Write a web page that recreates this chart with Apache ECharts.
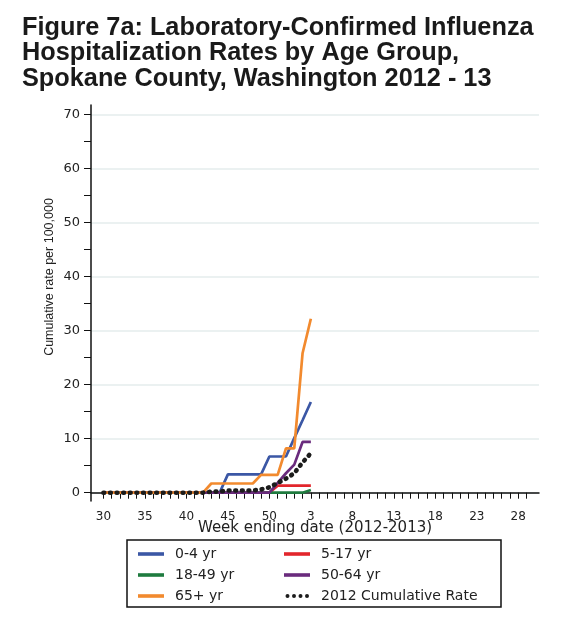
<!DOCTYPE html>
<html>
<head>
<meta charset="utf-8" />
<title>Figure 7a</title>
<style type="text/css">
html,body{margin:0;padding:0;background:#fff}
#chart{width:567px;height:618px}
</style>
<script src="https://cdn.jsdelivr.net/npm/echarts@6/dist/echarts.min.js"></script>
</head>
<body>
<div id="chart"></div>
<script type="text/javascript">
// week ending labels on the x axis (2012 weeks 30-52, then 2013 weeks 1-29)
var weeks2012 = [30,31,32,33,34,35,36,37,38,39,40,41,42,43,44,45,46,47,48,49,50,51,52];
var weeks2013 = [1,2,3,4,5,6,7,8,9,10,11,12,13,14,15,16,17,18,19,20,21,22,23,24,25,26,27,28,29];

// cumulative rates per 100,000, week 30 (2012) to week 3 (2013)
var age0to4   = [0,0,0,0,0,0,0,0,0,0,0,0,0,0,0,3.4,3.4,3.4,3.4,3.4,6.7,6.7,6.7,10.1,13.4,16.8];
var age5to17  = [0,0,0,0,0,0,0,0,0,0,0,0,0,0,0,0,0,0,0,0,0,1.3,1.3,1.3,1.3,1.3];
var age18to49 = [0,0,0,0,0,0,0,0,0,0,0,0,0,0,0,0,0,0,0,0,0,0,0,0,0,0.5];
var age50to64 = [0,0,0,0,0,0,0,0,0,0,0,0,0,0,0,0,0,0,0,0,0,1.8,3.6,5.2,9.4,9.4];
var age65plus = [0,0,0,0,0,0,0,0,0,0,0,0,0,1.7,1.7,1.7,1.7,1.7,1.7,3.3,3.3,3.3,8.2,8.2,25.8,32.2];
var cumRate   = [0,0,0,0,0,0,0,0,0,0,0,0,0,0.2,0.2,0.4,0.4,0.4,0.4,0.6,1.0,1.8,2.6,3.6,5.6,7.3];

var seriesNames = ['0-4 yr','5-17 yr','18-49 yr','50-64 yr','65+ yr','2012 Cumulative Rate'];
var seriesColors = ['#3b57a5','#e2262c','#1f7b3f','#6a2b7d','#f28a2e','#1c1c1c'];
var seriesData = [age0to4,age5to17,age18to49,age50to64,age65plus,cumRate];

var yTicks = [0,10,20,30,40,50,60,70];

// one empty slot at each end gives the padding the axis has past 30 and 29
var categories = [''].concat(weeks2012.map(String), weeks2013.map(String), ['']);
var lastCat = categories.length - 1;

var chartFont = 'DejaVu Sans';

// legend icons: a short thick bar, and a row of dots for the cumulative rate
var barIcon = 'path://M0,0L0,0M0,5.2L26,5.2L26,8.8L0,8.8ZM26,14L26,14';
var dotIcon = 'path://M0,0L0,0M1.5,7a2,2 0 1,0 4,0a2,2 0 1,0 -4,0M8,7a2,2 0 1,0 4,0a2,2 0 1,0 -4,0' +
	'M14.5,7a2,2 0 1,0 4,0a2,2 0 1,0 -4,0M21,7a2,2 0 1,0 4,0a2,2 0 1,0 -4,0M26,14L26,14';

function legendItem(name){
	return {name: name, icon: name == '2012 Cumulative Rate' ? dotIcon : barIcon};
}

var series = seriesData.map(function(d,i){
	var s = {
		name: seriesNames[i],
		type: 'line',
		data: [null].concat(d),
		symbol: 'none',
		showSymbol: false,
		animation: false,
		z: 2 + i,
		lineStyle: {color: seriesColors[i], width: 2.7},
		itemStyle: {color: seriesColors[i]}
	};
	if(i == 5){
		s.lineStyle = {color: seriesColors[i], width: 4.6, type: [0.8, 5.8], cap: 'round'};
	}
	return s;
});

var myChart = echarts.init(document.getElementById('chart'));
var option = {
	backgroundColor: '#fff',
	animation: false,
	title: {
		text: 'Figure 7a: Laboratory-Confirmed Influenza\nHospitalization Rates by Age Group,\nSpokane County, Washington 2012 - 13',
		left: 22,
		top: 15,
		padding: 0,
		textStyle: {
			fontFamily: 'Liberation Sans',
			fontSize: 25.3,
			fontWeight: 'bold',
			lineHeight: 25.5,
			color: '#1a1a1a'
		}
	},
	grid: [
		{left: 91, right: 28, top: 114.5, bottom: 125.3, containLabel: false},
		{left: 91, right: 28, top: 105, bottom: 117, containLabel: false}
	],
	legend: [
		{
			orient: 'vertical',
			left: 133, top: 542,
			itemWidth: 26, itemHeight: 14, itemGap: 7,
			data: ['0-4 yr','18-49 yr','65+ yr'].map(legendItem),
			textStyle: {fontFamily: chartFont, fontSize: 14, color: '#222', padding: [0,0,0,6]}
		},
		{
			orient: 'vertical',
			left: 279, top: 542,
			itemWidth: 26, itemHeight: 14, itemGap: 7,
			data: ['5-17 yr','50-64 yr','2012 Cumulative Rate'].map(legendItem),
			textStyle: {fontFamily: chartFont, fontSize: 14, color: '#222', padding: [0,0,0,6]}
		}
	],
	graphic: [
		{
			type: 'rect',
			shape: {x: 127, y: 540, width: 374, height: 67},
			style: {fill: 'none', stroke: '#111', lineWidth: 1.5},
			silent: true
		},
		{
			type: 'text',
			x: 50, y: 277,
			rotation: Math.PI / 2,
			style: {
				text: 'Cumulative rate per 100,000',
				fontFamily: 'Liberation Sans',
				fontSize: 12.5,
				fill: '#222',
				align: 'center',
				verticalAlign: 'middle'
			},
			silent: true
		}
	],
	xAxis: [
		{
			gridIndex: 0,
			type: 'category',
			data: categories,
			boundaryGap: true,
			offset: 8,
			name: 'Week ending date (2012-2013)',
			nameLocation: 'middle',
			nameGap: 20,
			nameMoveOverlap: false,
			nameTextStyle: {fontFamily: chartFont, fontSize: 15, color: '#222'},
			axisLine: {show: true, lineStyle: {color: '#111', width: 1.5}},
			axisTick: {
				show: true,
				alignWithLabel: true,
				length: 6,
				lineStyle: {color: '#111', width: 1},
				interval: function(idx){ return idx > 0 && idx < lastCat; }
			},
			axisLabel: {
				fontFamily: chartFont,
				fontSize: 12,
				color: '#222',
				margin: 10,
				interval: function(idx){ return idx > 0 && idx < lastCat && (idx - 1) % 5 === 0; }
			},
			splitLine: {show: false}
		},
		{
			gridIndex: 1,
			type: 'value',
			min: 0, max: 1,
			show: false
		}
	],
	yAxis: [
		{
			gridIndex: 0,
			type: 'value',
			min: 0, max: 70, interval: 10,
			axisLine: {show: false},
			axisTick: {show: true, length: 7, lineStyle: {color: '#111', width: 1}},
			minorTick: {show: true, splitNumber: 2, length: 7, lineStyle: {color: '#111', width: 1}},
			axisLabel: {
				fontFamily: chartFont,
				fontSize: 13,
				color: '#222',
				margin: 11,
				customValues: yTicks
			},
			splitLine: {show: true, lineStyle: {color: '#e4eded', width: 1.5}},
			minorSplitLine: {show: false}
		},
		{
			gridIndex: 1,
			type: 'value',
			min: 0, max: 1,
			axisLine: {show: true, lineStyle: {color: '#111', width: 1.5}},
			axisTick: {show: false},
			axisLabel: {show: false},
			splitLine: {show: false}
		}
	],
	series: series
};
myChart.setOption(option);
</script>
</body>
</html>
